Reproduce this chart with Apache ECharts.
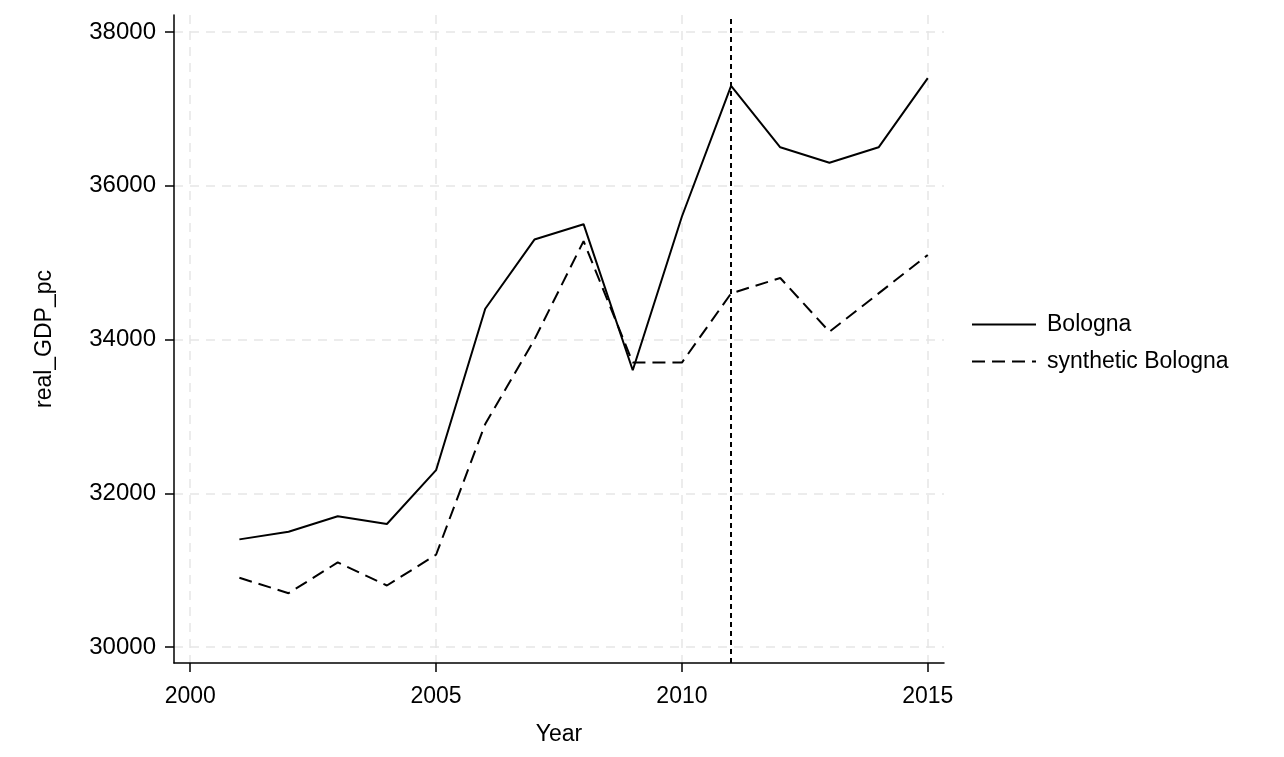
<!DOCTYPE html>
<html>
<head>
<meta charset="utf-8">
<script src="https://cdn.jsdelivr.net/npm/echarts@6/dist/echarts.min.js"></script>
<style>
  html,body{margin:0;padding:0;background:#fff;}
  #gdpChart{width:1284px;height:757px;}
</style>
</head>
<body>
<div id="gdpChart"></div>
<script>
  var years = [2001,2002,2003,2004,2005,2006,2007,2008,2009,2010,2011,2012,2013,2014,2015];
  var bologna = [31400,31500,31700,31600,32300,34400,35300,35500,33600,35600,37300,36500,36300,36500,37400];
  var synthBologna = [30900,30700,31100,30800,31200,32900,34000,35280,33700,33700,34600,34800,34100,34600,35100];
  var xTicks = [2000,2005,2010,2015];
  var yTicks = [30000,32000,34000,36000,38000];
  var treatYear = 2011;

  function pairs(xs, ys){
    var out = [];
    for(var i = 0; i < xs.length; i++){
      out.push([xs[i], ys[i]]);
    }
    return out;
  }

  var font = 'Liberation Sans';
  var gridLine = {show:true, lineStyle:{color:'#e6e6e6', type:[9,7], width:1.5}};

  var option = {
    animation:false,
    textStyle:{fontFamily:font, color:'#000'},
    grid:{left:174, right:340, top:15, bottom:94},
    legend:{
      orient:'vertical',
      left:966,
      top:308,
      itemWidth:64,
      itemHeight:14,
      itemGap:14,
      itemStyle:{opacity:0},
      textStyle:{fontFamily:font, fontSize:23, color:'#000', padding:[0,0,0,6]},
      data:['Bologna','synthetic Bologna']
    },
    xAxis:{
      type:'value',
      min:1999.67,
      max:2015.33,
      name:'Year',
      nameLocation:'middle',
      nameGap:60,
      nameTextStyle:{fontSize:23, color:'#000'},
      axisLine:{show:true, onZero:false, lineStyle:{color:'#000', width:1.5}},
      axisTick:{show:true, length:9, customValues:xTicks, lineStyle:{color:'#000', width:1.5}},
      axisLabel:{customValues:xTicks, fontSize:23, color:'#000', margin:22, formatter:function(v){ return String(v); }},
      splitLine:gridLine
    },
    yAxis:{
      type:'value',
      min:29792,
      max:38221,
      name:'real_GDP_pc',
      nameLocation:'middle',
      nameGap:118,
      nameTextStyle:{fontSize:23, color:'#000'},
      axisLine:{show:true, onZero:false, lineStyle:{color:'#000', width:1.5}},
      axisTick:{show:true, length:9, customValues:yTicks, lineStyle:{color:'#000', width:1.5}},
      axisLabel:{customValues:yTicks, fontSize:24, color:'#000', margin:18, formatter:function(v){ return String(v); }},
      splitLine:gridLine
    },
    series:[
      {
        name:'Bologna',
        type:'line',
        symbol:'none',
        data:pairs(years, bologna),
        lineStyle:{color:'#000', width:2},
        itemStyle:{color:'#000'},
        markLine:{
          silent:true,
          symbol:'none',
          label:{show:false},
          lineStyle:{color:'#000', type:[5,4], width:2},
          data:[{xAxis:treatYear}]
        }
      },
      {
        name:'synthetic Bologna',
        type:'line',
        symbol:'none',
        data:pairs(years, synthBologna),
        lineStyle:{color:'#000', width:2, type:[13,7]},
        itemStyle:{color:'#000'}
      }
    ]
  };

  var chart = echarts.init(document.getElementById('gdpChart'));
  chart.setOption(option);
</script>
</body>
</html>
